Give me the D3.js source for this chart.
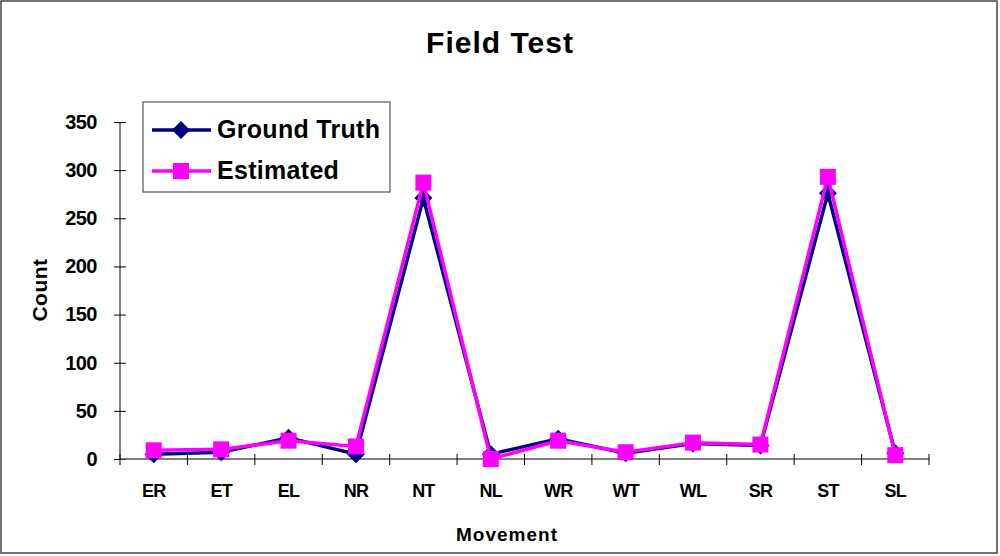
<!DOCTYPE html>
<html>
<head>
<meta charset="utf-8">
<script src="https://cdn.jsdelivr.net/npm/d3@7"></script>
<style>
  body { margin: 0; background: #fff; }
  svg { font-family: "Liberation Sans", Arial, sans-serif; font-weight: bold; }
</style>
</head>
<body>
<div id="chart"></div>
<script>
const movements = ["ER", "ET", "EL", "NR", "NT", "NL", "WR", "WT", "WL", "SR", "ST", "SL"];
const groundTruth = [5, 7, 22, 5, 271, 5, 21, 6, 16, 14, 276, 6];
const estimated = [9, 10, 19, 13, 287, 0, 19, 7, 17, 15, 293, 4];
const yTicks = [0, 50, 100, 150, 200, 250, 300, 350];

const width = 1000, height = 556;
const svg = d3.select("#chart").append("svg")
  .attr("width", width)
  .attr("height", height);

// outer frame
svg.append("rect")
  .attr("x", 1).attr("y", 1)
  .attr("width", 996).attr("height", 552)
  .attr("fill", "#fff")
  .attr("stroke", "#444")
  .attr("stroke-width", 1.5);

const x = d3.scaleBand().domain(movements).range([120, 929]);
const y = d3.scaleLinear().domain([0, 350]).range([459, 122]);

// y axis
const yAxis = svg.append("g")
  .attr("transform", "translate(120,0)")
  .call(d3.axisLeft(y).tickValues(yTicks).tickSize(6).tickPadding(17));
yAxis.select(".domain").attr("stroke", "#000").attr("d", `M0,${y(350)}V${y(0)}`);
yAxis.selectAll(".tick line").attr("stroke", "#000").attr("x1", 6).attr("x2", -6);
yAxis.selectAll("text").attr("font-size", 20).attr("letter-spacing", -0.5).attr("fill", "#000");

// x axis
const xAxis = svg.append("g")
  .attr("transform", `translate(0,${y(0)})`)
  .call(d3.axisBottom(x).tickSize(0).tickPadding(25));
xAxis.select(".domain").attr("stroke", "#555").attr("stroke-width", 1.5).attr("d", `M120,0H929`);
xAxis.selectAll("text").attr("font-size", 18).attr("letter-spacing", -0.8).attr("fill", "#000");
xAxis.selectAll(".sep").data(d3.range(movements.length + 1)).enter()
  .append("line")
  .attr("x1", i => 120 + i * x.step())
  .attr("x2", i => 120 + i * x.step())
  .attr("y1", -5).attr("y2", 6)
  .attr("stroke", "#000");

const cx = d => x(d) + x.bandwidth() / 2;
const line = vals => d3.line()
  .x((d, i) => cx(movements[i]))
  .y(d => y(d))(vals);

// Ground truth series
svg.append("path")
  .attr("d", line(groundTruth))
  .attr("fill", "none").attr("stroke", "#000080").attr("stroke-width", 3.5);
svg.selectAll(".gt").data(groundTruth).enter()
  .append("path")
  .attr("transform", (d, i) => `translate(${cx(movements[i])},${y(d)})`)
  .attr("d", "M0,-9L9,0L0,9L-9,0Z")
  .attr("fill", "#000080");

// Estimated series
svg.append("path")
  .attr("d", line(estimated))
  .attr("fill", "none").attr("stroke", "#ff00ff").attr("stroke-width", 3.5);
svg.selectAll(".est").data(estimated).enter()
  .append("rect")
  .attr("x", (d, i) => cx(movements[i]) - 8)
  .attr("y", d => y(d) - 8)
  .attr("width", 16).attr("height", 16)
  .attr("fill", "#ff00ff");

// title and axis titles
svg.append("text")
  .attr("x", 500).attr("y", 53)
  .attr("text-anchor", "middle")
  .attr("font-size", 30)
  .attr("letter-spacing", 1)
  .text("Field Test");

svg.append("text")
  .attr("x", 507).attr("y", 541)
  .attr("text-anchor", "middle")
  .attr("font-size", 19)
  .attr("letter-spacing", 1)
  .text("Movement");

svg.append("text")
  .attr("transform", "translate(47,290) rotate(-90)")
  .attr("text-anchor", "middle")
  .attr("font-size", 21)
  .attr("letter-spacing", 0.5)
  .text("Count");

// legend
const legend = svg.append("g");
legend.append("rect")
  .attr("x", 143).attr("y", 102)
  .attr("width", 247).attr("height", 90)
  .attr("fill", "#fff").attr("stroke", "#555").attr("stroke-width", 1.2);

const legendItems = [
  { name: "Ground Truth", color: "#000080", shape: "diamond" },
  { name: "Estimated", color: "#ff00ff", shape: "square" }
];
const items = legend.selectAll(".item").data(legendItems).enter()
  .append("g")
  .attr("transform", (d, i) => `translate(0,${130 + i * 41})`);
items.append("line")
  .attr("x1", 152).attr("x2", 211)
  .attr("stroke", d => d.color).attr("stroke-width", 3.5);
items.append("path")
  .attr("transform", "translate(181,0)")
  .attr("d", d => d.shape === "diamond" ? "M0,-9L9,0L0,9L-9,0Z" : "M-8,-8H8V8H-8Z")
  .attr("fill", d => d.color);
items.append("text")
  .attr("x", 217).attr("y", 8)
  .attr("font-size", 25)
  .attr("letter-spacing", 0.3)
  .text(d => d.name);
</script>
</body>
</html>
